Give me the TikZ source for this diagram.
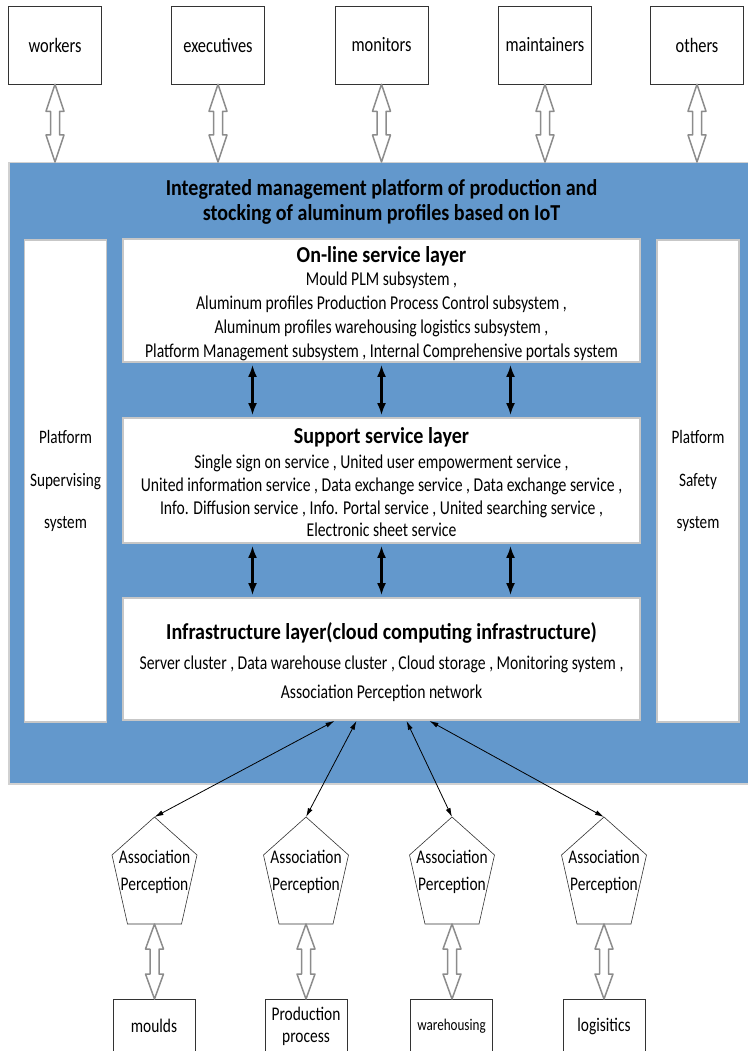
\documentclass[tikz,border=0pt]{standalone}
\usepackage{fontspec}
\setmainfont{Carlito}[FakeStretch=0.8]
\newfontfamily\titlefamily{Carlito}[FakeStretch=0.88]
\usetikzlibrary{arrows.meta,calc}
\definecolor{platblue}{RGB}{99,152,204}
\newcommand\hollowdbl[3]{% #1 top point, #2 bottom point, #3 head length
  \draw[hollowarrow] let \p1=(#1), \p2=(#2) in
    (\x1,\y1) -- (\x1+9pt,\y1-#3) -- (\x1+4.5pt,\y1-#3) -- (\x1+4.5pt,\y2+#3)
    -- (\x1+9pt,\y2+#3) -- (\x1,\y2) -- (\x1-9pt,\y2+#3) -- (\x1-4.5pt,\y2+#3)
    -- (\x1-4.5pt,\y1-#3) -- (\x1-9pt,\y1-#3) -- cycle;}
\newcommand\pentagon[2]{% #1 name, #2 centre x
  \coordinate (#1-top) at (#2,817);
  \coordinate (#1-bot) at (#2,924);
  \draw[pentline] (#1-top) -- (#2+42.5,855) -- (#2+27,924) -- (#1-bot)
    -- (#2-27,924) -- (#2-42.5,855) -- cycle;
  \node[penttext] (#1) at (#2,872) {Association\\Perception};}
\begin{document}
\begin{tikzpicture}[x=1pt,y=-1pt,
  rolebox/.style={draw=black!80, line width=0.6pt, fill=white, minimum width=93,
    minimum height=78, inner sep=0, font=\fontsize{20.5}{24}\selectfont},
  sourcebox/.style={draw=black!80, line width=0.6pt, fill=white, minimum width=82,
    minimum height=54, anchor=north, inner sep=0, align=center,
    font=\fontsize{19.3}{22}\selectfont},
  platform/.style={fill=platblue, draw=black!18, line width=1.5pt, inner sep=0},
  layerbox/.style={fill=white, draw=black!22, line width=1.8pt, inner sep=0,
    minimum width=517},
  sidebox/.style={fill=white, draw=black!22, line width=1.8pt, inner sep=0,
    minimum width=82, minimum height=482, align=center,
    font=\fontsize{19}{42.5}\selectfont},
  titletext/.style={inner sep=0, align=center, font=\titlefamily\bfseries\fontsize{22.8}{25}\selectfont},
  bodytext/.style={inner sep=0, align=center},
  penttext/.style={inner sep=0, align=center, font=\fontsize{19.3}{27}\selectfont},
  pentline/.style={draw=black!80, line width=0.6pt, fill=white},
  hollowarrow/.style={draw=black!45, line width=1.5pt, fill=white, line join=round},
  layerarrow/.style={draw=black, line width=2.2pt, {Latex[length=12pt,width=9pt]}-{Latex[length=12pt,width=9pt]},
    shorten <=2pt, shorten >=2pt},
  thinarrow/.style={draw=black, line width=0.8pt, {Latex[length=9pt,width=5pt]}-{Latex[length=9pt,width=5pt]}}
]
\useasboundingbox (0,0) rectangle (747,1051);

% top role boxes
\node[rolebox] (workers) at (55,45) {workers};
\node[rolebox] (executives) at (218,45) {executives};
\node[rolebox] (monitors) at (381.5,45) {monitors};
\node[rolebox] (maintainers) at (545,45) {maintainers};
\node[rolebox] (others) at (697,45) {others};

% platform
\node[platform, anchor=north west, minimum width=748, minimum height=621] (plat) at (8,162) {};
\node[titletext] (plattitle) at (381.5,201.5) {Integrated management platform of production and\\stocking of aluminum profiles based on IoT};

% side boxes
\node[sidebox] (superv) at (65.5,481) {Platform\\Supervising\\system};
\node[sidebox] (safety) at (698,481) {Platform\\Safety\\system};

% layer boxes
\node[layerbox, minimum height=123] (online) at (381.5,300.5) {};
\node[layerbox, minimum height=125] (support) at (381.5,480.5) {};
\node[layerbox, minimum height=122] (infra) at (381.5,659) {};

\node[titletext] (onlinetitle) at (381.5,256) {On-line service layer};
\node[bodytext, font=\fontsize{19.6}{24}\selectfont] (onlinebody) at (381.5,316.5)
  {Mould PLM subsystem ,\\Aluminum profiles Production Process Control subsystem ,\\
   Aluminum profiles warehousing logistics subsystem ,\\
   Platform Management subsystem , Internal Comprehensive portals system};

\node[titletext] (supporttitle) at (381.5,437) {Support service layer};
\node[bodytext, font=\fontsize{19.6}{22.7}\selectfont] (supportbody) at (381.5,496)
  {Single sign on service , United user empowerment service ,\\
   United information service , Data exchange service , Data exchange service ,\\
   Info. Diffusion service , Info. Portal service , United searching service ,\\
   Electronic sheet service};

\node[titletext] (infratitle) at (381.5,633) {Infrastructure layer(cloud computing infrastructure)};
\node[bodytext, font=\fontsize{19.6}{29}\selectfont] (infrabody) at (381.5,678.5)
  {Server cluster , Data warehouse cluster , Cloud storage , Monitoring system ,\\
   Association Perception network};

% arrows between layers
\foreach \dx in {-129,0,129} {
  \draw[layerarrow] ([xshift=\dx]online.south) -- ([xshift=\dx]support.north);
  \draw[layerarrow] ([xshift=\dx]support.south) -- ([xshift=\dx]infra.north);
}

% hollow arrows roles <-> platform
\foreach \r in {workers,executives,monitors,maintainers,others}
  \hollowdbl{\r.south}{\r.south |- plat.north}{27pt};

% pentagons
\pentagon{pa}{154.5}
\pentagon{pb}{306}
\pentagon{pc}{452}
\pentagon{pd}{604}

\draw[thinarrow] ([xshift=-47]infra.south) -- (pa-top);
\draw[thinarrow] ([xshift=-25]infra.south) -- (pb-top);
\draw[thinarrow] ([xshift=25]infra.south) -- (pc-top);
\draw[thinarrow] ([xshift=48]infra.south) -- (pd-top);

% bottom source boxes
\node[sourcebox] (moulds) at (154,999) {moulds};
\node[sourcebox] (production) at (306,999) {Production\\process};
\node[sourcebox, font=\fontsize{16.4}{18}\selectfont] (warehousing) at (451.5,999) {warehousing};
\node[sourcebox] (logistics) at (604,999) {logisitics};

\hollowdbl{pa-bot}{moulds.north}{25pt}
\hollowdbl{pb-bot}{production.north}{25pt}
\hollowdbl{pc-bot}{warehousing.north}{25pt}
\hollowdbl{pd-bot}{logistics.north}{25pt}
\end{tikzpicture}
\end{document}
